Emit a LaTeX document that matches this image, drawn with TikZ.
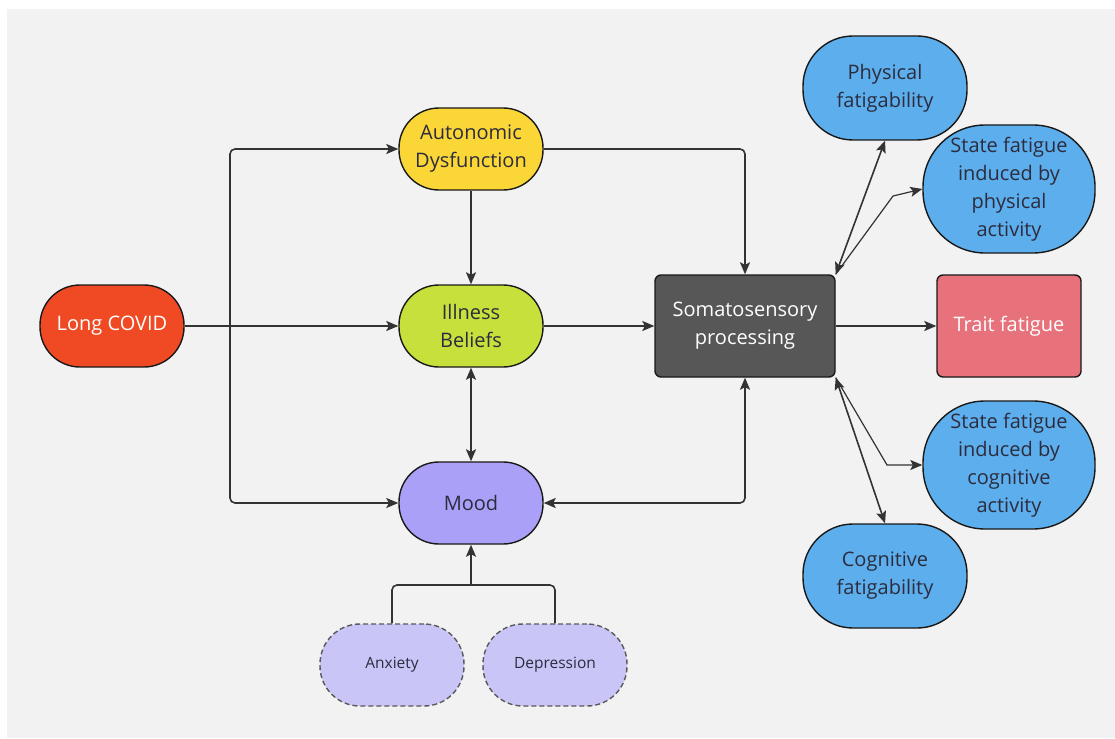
\documentclass[tikz,border=0pt]{standalone}
\usepackage{fontspec}
\setmainfont{Open Sans}
\usetikzlibrary{arrows.meta,calc}
\definecolor{bg}{HTML}{F2F2F2}
\definecolor{cred}{HTML}{EF4A24}
\definecolor{cyellow}{HTML}{FBD637}
\definecolor{clime}{HTML}{C7E03C}
\definecolor{cmood}{HTML}{AAA0F8}
\definecolor{clight}{HTML}{C9C5F7}
\definecolor{cdark}{HTML}{575757}
\definecolor{cpink}{HTML}{E8727B}
\definecolor{cblue}{HTML}{5DAEEC}
\definecolor{ctext}{HTML}{2C2C3E}
\definecolor{cline}{HTML}{333333}
\tikzset{
  base/.style={draw=black!90, line width=1.4pt, align=center, inner sep=0pt,
    font=\fontsize{20}{28}\selectfont, text=ctext},
  stadium/.style={base, rounded corners=40pt, minimum width=144pt, minimum height=82pt},
  small/.style={stadium, draw=black!65, dashed, dash pattern=on 5pt off 3pt, fill=clight,
    font=\fontsize{15.5}{20}\selectfont},
  boxnode/.style={base, rounded corners=6pt},
  blueA/.style={base, fill=cblue, rounded corners=50pt, minimum width=164pt, minimum height=104pt},
  blueB/.style={base, fill=cblue, rounded corners=62pt, minimum width=172pt, minimum height=128pt},
  conn/.style={draw=cline, line width=1.6pt, rounded corners=5pt},
  arr/.style={conn, -{Stealth[length=12pt,width=10pt,inset=2.5pt]}},
  barr/.style={conn, {Stealth[length=12pt,width=10pt,inset=2.5pt]}-{Stealth[length=12pt,width=10pt,inset=2.5pt]}},
}
\begin{document}
\begin{tikzpicture}[x=1pt,y=-1pt]
\useasboundingbox (0,0) rectangle (1115,738);
\fill[white] (0,0) rectangle (1115,738);
\fill[bg] (7,9) rectangle (1115,738);

\node[stadium, fill=cred, text=white] (lc) at (112,326) {Long COVID};
\node[stadium, fill=cyellow] (auto) at (471,149) {Autonomic\\Dysfunction};
\node[stadium, fill=clime] (ill) at (471,326) {Illness\\Beliefs};
\node[stadium, fill=cmood] (mood) at (471,503) {Mood};
\node[small] (anx) at (392,665) {Anxiety};
\node[small] (dep) at (555,665) {Depression};
\node[boxnode, fill=cdark, text=white, minimum width=180pt, minimum height=102pt] (soma) at (745,326) {Somatosensory\\processing};
\node[boxnode, fill=cpink, text=white, minimum width=144pt, minimum height=102pt] (trait) at (1009,326) {Trait fatigue};
\node[blueA] (phys) at (885,88) {Physical\\fatigability};
\node[blueB] (sfp) at (1009,189) {State fatigue\\induced by\\physical\\activity};
\node[blueB] (sfc) at (1009,465) {State fatigue\\induced by\\cognitive\\activity};
\node[blueA] (cog) at (885,576) {Cognitive\\fatigability};

\coordinate (trunk) at (230,326);
\coordinate (mj) at (471,585);
\coordinate (kp) at (893,196);
\coordinate (kc) at (887,465);

\draw[conn] (lc.east) -- (trunk);
\draw[arr] (trunk) |- (auto.west);
\draw[arr] (trunk) -- (ill.west);
\draw[arr] (trunk) |- (mood.west);
\draw[arr] (auto.south) -- (ill.north);
\draw[arr] (auto.east) -| (soma.north);
\draw[barr] (ill.south) -- (mood.north);
\draw[arr] (ill.east) -- (soma.west);
\draw[barr] (mood.east) -| (soma.south);
\draw[conn] (anx.north) |- (mj);
\draw[conn] (dep.north) |- (mj);
\draw[arr] (mj) -- (mood.south);
\draw[arr] (soma.east) -- (trait.west);
\draw[barr] (soma.north east) -- (phys.south);
\draw[arr, rounded corners=0pt, line width=1.2pt] (soma.north east) -- (kp) -- (sfp.west);
\draw[barr] (soma.south east) -- (cog.north);
\draw[arr, rounded corners=0pt, line width=1.2pt] (soma.south east) -- (kc) -- (sfc.west);
\end{tikzpicture}
\end{document}
